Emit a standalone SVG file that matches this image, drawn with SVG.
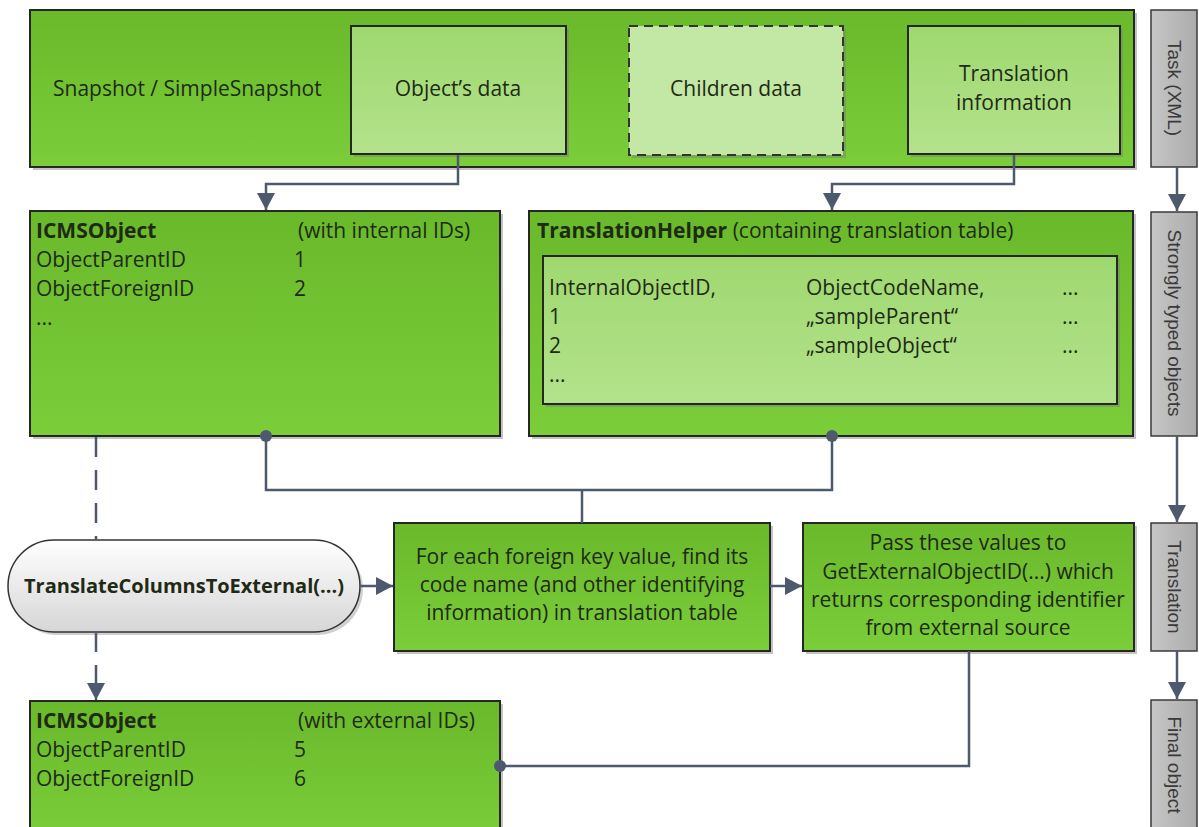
<svg xmlns="http://www.w3.org/2000/svg" width="1199" height="827" viewBox="0 0 1199 827">
<style>
.t{font-family:"Open Sans","Liberation Sans",sans-serif;font-size:21px;fill:#1f2a14}
.b{font-weight:bold}
.m{text-anchor:middle}
.g{fill:url(#green);stroke:#262626;stroke-width:2}
.lg{fill:url(#lgreen);stroke:#262626;stroke-width:2}
.gr{fill:url(#gray);stroke:#3a3a3a;stroke-width:1.5}
.sh{fill:#7a7a7a;opacity:0.45}
.v{font-family:"Liberation Sans",sans-serif;font-size:19px;fill:#3a3a3a;text-anchor:middle;dominant-baseline:central}
.c{fill:none;stroke:#4d5a6e;stroke-width:2.5}
.d{stroke-dasharray:20 13}
.dot{fill:#4d5a6e}
</style>
<defs>
<linearGradient id="green" x1="0" y1="0" x2="0" y2="1"><stop offset="0" stop-color="#69b92b"/><stop offset="1" stop-color="#7ccd3a"/></linearGradient>
<linearGradient id="lgreen" x1="0" y1="0" x2="0" y2="1"><stop offset="0" stop-color="#9fd86f"/><stop offset="1" stop-color="#b3e28c"/></linearGradient>
<linearGradient id="gray" x1="0" y1="0" x2="1" y2="0"><stop offset="0" stop-color="#c6c6c6"/><stop offset="1" stop-color="#acacac"/></linearGradient>
<linearGradient id="pill" x1="0" y1="0" x2="0" y2="1"><stop offset="0" stop-color="#ffffff"/><stop offset="1" stop-color="#d6d6d6"/></linearGradient>
<marker id="arr" markerUnits="userSpaceOnUse" markerWidth="20" markerHeight="20" refX="17" refY="9" orient="auto"><path d="M0,0 L17,9 L0,18 Z" fill="#4d5a6e"/></marker>
</defs>

<g id="snapshot">
<rect class="sh" x="33" y="13" width="1104" height="157"/>
<rect class="g" x="30" y="10" width="1104" height="157"/>
<text class="t" x="53" y="96">Snapshot / SimpleSnapshot</text>
</g>
<g id="objects-data">
<rect class="sh" x="354" y="29" width="215" height="128"/>
<rect class="lg" x="351" y="26" width="215" height="128"/>
<text class="t m" x="458" y="96">Object’s data</text>
</g>
<g id="children-data">
<rect class="sh" x="632" y="29" width="214" height="129"/>
<rect x="629" y="26" width="214" height="129" fill="#c3e7a5" stroke="#333" stroke-width="2" stroke-dasharray="9 6"/>
<text class="t m" x="736" y="96">Children data</text>
</g>
<g id="translation-info">
<rect class="sh" x="911" y="29" width="212" height="128"/>
<rect class="lg" x="908" y="26" width="212" height="128"/>
<text class="t m" x="1014" y="81">Translation</text>
<text class="t m" x="1014" y="110">information</text>
</g>
<g id="task-xml">
<rect class="gr" x="1151" y="10" width="46" height="157"/>
<text class="v" transform="rotate(90 1174 88)" x="1174" y="88">Task (XML)</text>
</g>

<g id="icms-internal">
<rect class="sh" x="33" y="214" width="470" height="225"/>
<rect class="g" x="30" y="211" width="470" height="225"/>
<text class="t b" x="36" y="238">ICMSObject</text>
<text class="t" x="298" y="238">(with internal IDs)</text>
<text class="t" x="36" y="267">ObjectParentID</text>
<text class="t" x="294" y="267">1</text>
<text class="t" x="36" y="296">ObjectForeignID</text>
<text class="t" x="294" y="296">2</text>
<text class="t" x="36" y="325">...</text>
</g>
<g id="translation-helper">
<rect class="sh" x="532" y="214" width="604" height="225"/>
<rect class="g" x="529" y="211" width="604" height="225"/>
<text class="t" x="537" y="238"><tspan class="b">TranslationHelper</tspan> (containing translation table)</text>
<rect class="sh" x="546" y="259" width="574" height="148"/>
<rect class="lg" x="543" y="256" width="574" height="148"/>
<text class="t" x="549" y="295">InternalObjectID,</text>
<text class="t" x="806" y="295">ObjectCodeName,</text>
<text class="t" x="1062" y="295">...</text>
<text class="t" x="549" y="324">1</text>
<text class="t" x="806" y="324">„sampleParent“</text>
<text class="t" x="1062" y="324">...</text>
<text class="t" x="549" y="353">2</text>
<text class="t" x="806" y="353">„sampleObject“</text>
<text class="t" x="1062" y="353">...</text>
<text class="t" x="549" y="382">...</text>
</g>
<g id="strongly-typed">
<rect class="gr" x="1151" y="212" width="46" height="224"/>
<text class="v" transform="rotate(90 1174 323)" x="1174" y="323">Strongly typed objects</text>
</g>

<g id="translate-columns">
<rect x="11" y="543" width="352" height="92" rx="46" fill="#8a8a8a" opacity="0.4"/>
<rect x="8" y="540" width="352" height="92" rx="46" fill="url(#pill)" stroke="#333" stroke-width="1.5"/>
<text class="t b m" x="184" y="593" style="font-size:20px">TranslateColumnsToExternal(...)</text>
</g>
<g id="foreach">
<rect class="sh" x="397" y="526" width="376" height="128"/>
<rect class="g" x="394" y="523" width="376" height="128"/>
<text class="t m" x="582" y="564">For each foreign key value, find its</text>
<text class="t m" x="582" y="592">code name (and other identifying</text>
<text class="t m" x="582" y="620">information) in translation table</text>
</g>
<g id="pass-values">
<rect class="sh" x="806" y="526" width="331" height="128"/>
<rect class="g" x="803" y="523" width="331" height="128"/>
<text class="t m" x="968" y="550">Pass these values to</text>
<text class="t m" x="968" y="579">GetExternalObjectID(...) which</text>
<text class="t m" x="968" y="607">returns corresponding identifier</text>
<text class="t m" x="968" y="635">from external source</text>
</g>
<g id="translation">
<rect class="gr" x="1151" y="523" width="46" height="128"/>
<text class="v" transform="rotate(90 1174 587)" x="1174" y="587">Translation</text>
</g>

<g id="icms-external">
<rect class="sh" x="33" y="704" width="470" height="140"/>
<rect class="g" x="30" y="701" width="470" height="140"/>
<text class="t b" x="36" y="728">ICMSObject</text>
<text class="t" x="298" y="728">(with external IDs)</text>
<text class="t" x="36" y="757">ObjectParentID</text>
<text class="t" x="294" y="757">5</text>
<text class="t" x="36" y="786">ObjectForeignID</text>
<text class="t" x="294" y="786">6</text>
</g>
<g id="final-object">
<rect class="gr" x="1151" y="700" width="46" height="140"/>
<text class="v" transform="rotate(90 1174 765)" x="1174" y="765">Final object</text>
</g>

<g id="connectors">
<path class="c" d="M458,155 V184 H266 V210" marker-end="url(#arr)"/>
<path class="c" d="M1014,155 V184 H832 V210" marker-end="url(#arr)"/>
<path class="c" d="M1177,167 V211" marker-end="url(#arr)"/>
<path class="c" d="M266,436 V490 H832 V436"/>
<path class="c" d="M582,490 V523"/>
<circle class="dot" cx="266" cy="436" r="6"/>
<circle class="dot" cx="832" cy="436" r="6"/>
<path class="c d" d="M96,437 V540"/>
<path class="c d" d="M96,632 V700" marker-end="url(#arr)"/>
<path class="c" d="M360,586 H393" marker-end="url(#arr)"/>
<path class="c" d="M770,586 H802" marker-end="url(#arr)"/>
<path class="c" d="M1177,436 V522" marker-end="url(#arr)"/>
<path class="c" d="M969,651 V766 H500"/>
<circle class="dot" cx="500" cy="766" r="6"/>
<path class="c" d="M1177,651 V699" marker-end="url(#arr)"/>
</g>
</svg>
